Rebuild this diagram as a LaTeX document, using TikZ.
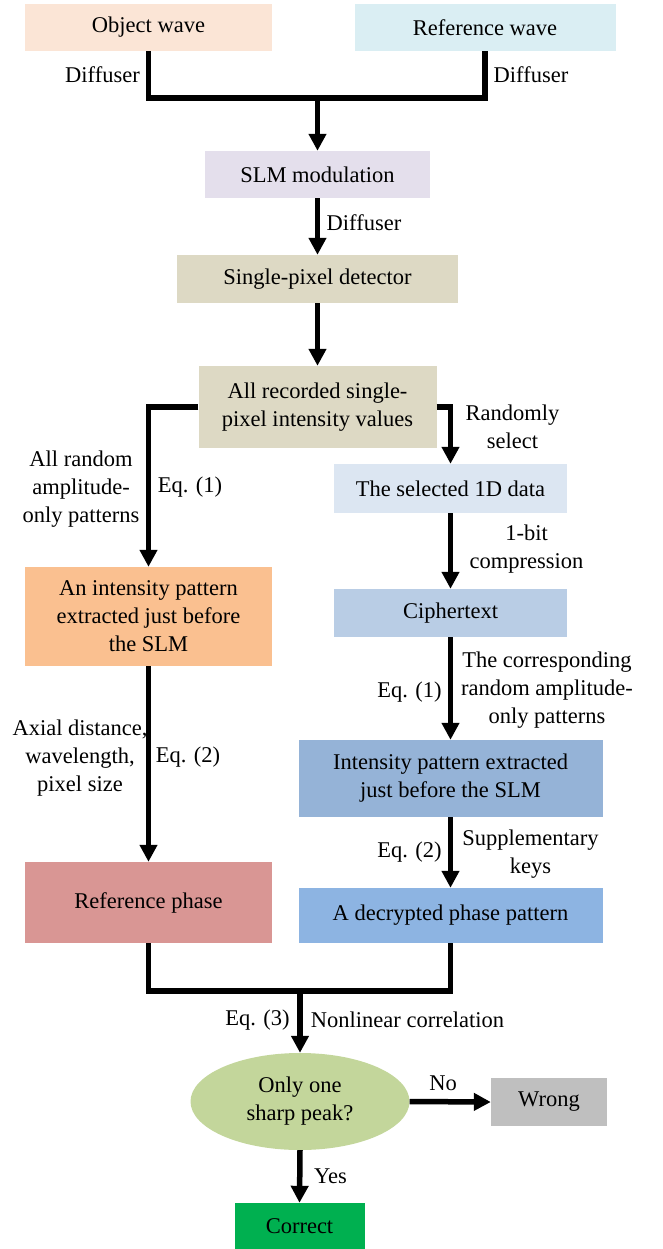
\documentclass[tikz,border=0pt]{standalone}
\usepackage{fontspec}
\setmainfont{Liberation Serif}
\usetikzlibrary{arrows.meta,shapes.geometric}
\definecolor{objc}{HTML}{FBE5D6}
\definecolor{refc}{HTML}{DAEEF3}
\definecolor{slmc}{HTML}{E4DFEC}
\definecolor{spdc}{HTML}{DDD9C4}
\definecolor{intlc}{HTML}{FAC090}
\definecolor{selc}{HTML}{DCE6F2}
\definecolor{cipc}{HTML}{B9CDE5}
\definecolor{intrc}{HTML}{95B3D7}
\definecolor{decc}{HTML}{8DB4E2}
\definecolor{rphc}{HTML}{D99694}
\definecolor{ellc}{HTML}{C3D69B}
\definecolor{wrongc}{HTML}{BFBFBF}
\definecolor{corc}{HTML}{00B050}
\tikzset{
  boxx/.style={rectangle, draw=none, inner sep=0pt, align=center, font=\fontsize{22.5}{28}\selectfont},
  lbl/.style={inner sep=0pt, align=center, font=\fontsize{22.5}{28}\selectfont},
  conn/.style={line width=5.5pt, line join=miter, draw=black},
  arr/.style={conn, -{Triangle[length=17pt,width=17pt]}},
}
\begin{document}
\begin{tikzpicture}[x=1pt,y=-1pt]
\useasboundingbox (0,0) rectangle (662,1249);
% boxes
\node[boxx, fill=objc, minimum width=247pt, minimum height=47pt] (obj) at (148.5,27.5) {Object wave};
\node[boxx, fill=refc, minimum width=261pt, minimum height=47pt] (ref) at (485,27.5) {Reference wave};
\node[boxx, fill=slmc, minimum width=225pt, minimum height=47pt] (slm) at (317.5,174.5) {SLM modulation};
\node[boxx, fill=spdc, minimum width=281pt, minimum height=48pt] (spd) at (317.5,279) {Single-pixel detector};
\node[boxx, fill=spdc, minimum width=238pt, minimum height=82pt] (rec) at (317.5,407) {All recorded single-\\pixel intensity values};
\node[boxx, fill=intlc, minimum width=247pt, minimum height=99pt] (intl) at (148.5,616.5) {An intensity pattern\\extracted just before\\the SLM};
\node[boxx, fill=selc, minimum width=233pt, minimum height=49pt] (sel) at (450.5,488.5) {The selected 1D data};
\node[boxx, fill=cipc, minimum width=233pt, minimum height=48pt] (cip) at (450.5,613) {Ciphertext};
\node[boxx, fill=intrc, minimum width=304pt, minimum height=77pt] (intr) at (450.5,778.5) {Intensity pattern extracted\\just before the SLM};
\node[boxx, fill=decc, minimum width=304pt, minimum height=55pt] (dec) at (450.5,915.5) {A decrypted phase pattern};
\node[boxx, fill=rphc, minimum width=247pt, minimum height=81pt] (rph) at (148.5,902.5) {Reference phase};
\node[boxx, ellipse, fill=ellc, minimum width=219pt, minimum height=97pt] (ell) at (300,1101.5) {Only one\\sharp peak?};
\node[boxx, fill=wrongc, minimum width=116pt, minimum height=48pt] (wrong) at (549,1102) {Wrong};
\node[boxx, fill=corc, minimum width=130pt, minimum height=46pt] (cor) at (299.5,1226) {Correct};
% junctions
\coordinate (m1) at (317.5,98);
\coordinate (m2) at (300,991);
% connectors
\draw[conn] (obj.south) |- (m1) -| (ref.south);
\draw[arr] (m1) -- (slm.north);
\draw[arr] (slm.south) -- (spd.north);
\draw[arr] (spd.south) -- (rec.north);
\draw[arr] (rec.west) -| (intl.north);
\draw[arr] (rec.east) -| (sel.north);
\draw[arr] (sel.south) -- (cip.north);
\draw[arr] (cip.south) -- (intr.north);
\draw[arr] (intr.south) -- (dec.north);
\draw[arr] (intl.south) -- (rph.north);
\draw[conn] (rph.south) |- (m2) -| (dec.south);
\draw[arr] (m2) -- (ell.north);
\draw[arr] (ell.east) -- (wrong.west);
\draw[arr] (ell.south) -- (cor.north);
% labels
\node[lbl] (d1) at (102.5,75) {Diffuser};
\node[lbl] (d2) at (531,75) {Diffuser};
\node[lbl] (d3) at (364,223) {Diffuser};
\node[lbl] (l1) at (81,489) {All random\\amplitude-\\only patterns};
\node[lbl] (e1) at (190,487) {Eq. (1)};
\node[lbl] (l2) at (512.5,427) {Randomly\\select};
\node[lbl] (l3) at (526.5,549) {1-bit\\compression};
\node[lbl] (l4) at (547,690) {The corresponding\\random amplitude-\\only patterns};
\node[lbl] (e2) at (409.5,692) {Eq. (1)};
\node[lbl] (l5) at (80,758) {Axial distance,\\wavelength,\\pixel size};
\node[lbl] (e3) at (188,757) {Eq. (2)};
\node[lbl] (e4) at (409.5,852) {Eq. (2)};
\node[lbl] (l6) at (530.5,854) {Supplementary\\keys};
\node[lbl] (e5) at (257.5,1020) {Eq. (3)};
\node[lbl] (l7) at (407.5,1020) {Nonlinear correlation};
\node[lbl] (no) at (443,1083) {No};
\node[lbl] (yes) at (330.5,1176) {Yes};
\end{tikzpicture}
\end{document}
